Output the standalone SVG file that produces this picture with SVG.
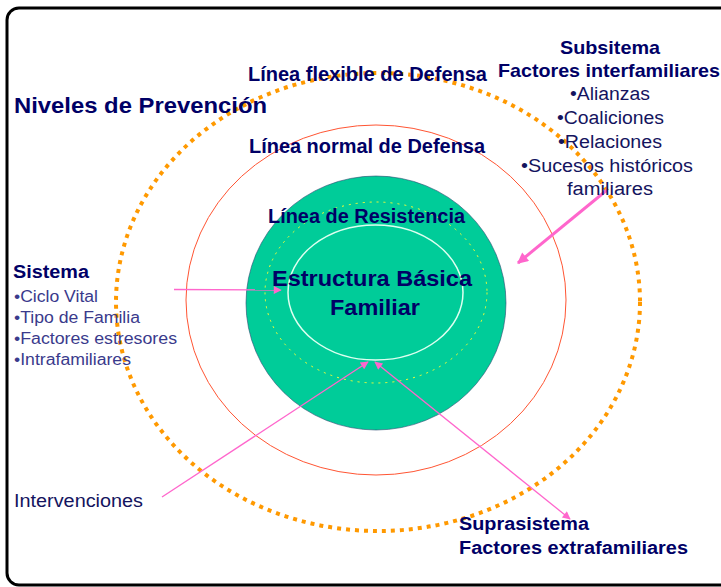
<svg xmlns="http://www.w3.org/2000/svg" width="721" height="587" viewBox="0 0 721 587">
<style>
text{font-family:"Liberation Sans",Arial,sans-serif;}
.b{font-weight:bold;fill:#000066;}
.r{fill:#14145e;}
.s{fill:#3a3a8c;}
.pk{stroke:#FF66CC;fill:none;}
</style>
<defs>
<marker id="ah" viewBox="0 0 10 10" refX="9" refY="5" markerWidth="10" markerHeight="8" markerUnits="userSpaceOnUse" orient="auto-start-reverse">
<path d="M0,0 L10,5 L0,10 z" fill="#FF66CC"/>
</marker>
<marker id="ahb" viewBox="0 0 10 10" refX="9" refY="5" markerWidth="14" markerHeight="11" markerUnits="userSpaceOnUse" orient="auto">
<path d="M0,0 L10,5 L0,10 z" fill="#FF66CC"/>
</marker>
</defs>
<rect width="721" height="587" fill="#ffffff"/>
<rect x="7" y="8" width="740" height="577" rx="12" fill="none" stroke="#000" stroke-width="3"/>

<g id="flexible">
<ellipse cx="378" cy="302" rx="262" ry="229" fill="none" stroke="#FF9900" stroke-width="4" stroke-dasharray="4 5"/>
</g>
<g id="normal">
<ellipse cx="376" cy="300" rx="190" ry="175" fill="none" stroke="#FF5533" stroke-width="1"/>
</g>
<g id="resistencia">
<ellipse cx="376" cy="303" rx="130" ry="127" fill="#00CC99" stroke="#2a4a70" stroke-width="1" stroke-opacity="0.6"/>
<ellipse cx="376" cy="292.5" rx="111" ry="90.5" fill="none" stroke="#FFFF33" stroke-width="1" stroke-dasharray="2 5"/>
</g>
<g id="estructura">
<ellipse cx="375.5" cy="292.5" rx="87.5" ry="67.5" fill="none" stroke="#DDFFF0" stroke-width="1.5"/>
</g>

<g id="connectors">
<line class="pk" x1="174" y1="289.5" x2="281" y2="290" stroke-width="1.3" marker-end="url(#ah)"/>
<line class="pk" x1="162" y1="497" x2="368" y2="362" stroke-width="1.3" marker-end="url(#ah)"/>
<line class="pk" x1="375" y1="362" x2="570" y2="519" stroke-width="1.3" marker-start="url(#ah)" marker-end="url(#ah)"/>
<line class="pk" x1="607" y1="190" x2="518" y2="263" stroke-width="3" marker-end="url(#ahb)"/>
</g>

<g id="labels">
<text class="b" x="14" y="113" font-size="22" textLength="253" lengthAdjust="spacingAndGlyphs">Niveles de Prevención</text>
<text class="b" x="248" y="81" font-size="19.5" textLength="239" lengthAdjust="spacingAndGlyphs">Línea flexible de Defensa</text>
<text class="b" x="249" y="152.5" font-size="19.5" textLength="236" lengthAdjust="spacingAndGlyphs">Línea normal de Defensa</text>
<text class="b" x="268" y="223" font-size="19.5" textLength="197" lengthAdjust="spacingAndGlyphs">Línea de Resistencia</text>
<text class="b" x="272" y="286" font-size="22" textLength="200" lengthAdjust="spacingAndGlyphs">Estructura Básica</text>
<text class="b" x="330" y="315" font-size="22" textLength="90" lengthAdjust="spacingAndGlyphs">Familiar</text>
</g>

<g id="subsistema">
<text class="b" x="560" y="54" font-size="19" textLength="100" lengthAdjust="spacingAndGlyphs">Subsitema</text>
<text class="b" x="498" y="77" font-size="19" textLength="222" lengthAdjust="spacingAndGlyphs">Factores interfamiliares</text>
<text class="r" x="570" y="100" font-size="18" textLength="80" lengthAdjust="spacingAndGlyphs">•Alianzas</text>
<text class="r" x="557" y="124" font-size="18" textLength="107" lengthAdjust="spacingAndGlyphs">•Coaliciones</text>
<text class="r" x="558" y="148" font-size="18" textLength="104" lengthAdjust="spacingAndGlyphs">•Relaciones</text>
<text class="r" x="521" y="172" font-size="18" textLength="172" lengthAdjust="spacingAndGlyphs">•Sucesos históricos</text>
<text class="r" x="567" y="195" font-size="18" textLength="86" lengthAdjust="spacingAndGlyphs">familiares</text>
</g>

<g id="sistema">
<text class="b" x="13" y="278" font-size="18" textLength="76" lengthAdjust="spacingAndGlyphs">Sistema</text>
<text class="s" x="14" y="302" font-size="16" textLength="84" lengthAdjust="spacingAndGlyphs">•Ciclo Vital</text>
<text class="s" x="14" y="323" font-size="16" textLength="126" lengthAdjust="spacingAndGlyphs">•Tipo de Familia</text>
<text class="s" x="14" y="344" font-size="16" textLength="163" lengthAdjust="spacingAndGlyphs">•Factores estresores</text>
<text class="s" x="14" y="365" font-size="16" textLength="117" lengthAdjust="spacingAndGlyphs">•Intrafamiliares</text>
</g>

<g id="intervenciones">
<text class="r" x="14" y="507" font-size="18" textLength="129" lengthAdjust="spacingAndGlyphs">Intervenciones</text>
</g>

<g id="suprasistema">
<text class="b" x="459" y="530" font-size="18" textLength="130" lengthAdjust="spacingAndGlyphs">Suprasistema</text>
<text class="b" x="459" y="554" font-size="18" textLength="229" lengthAdjust="spacingAndGlyphs">Factores extrafamiliares</text>
</g>
</svg>
